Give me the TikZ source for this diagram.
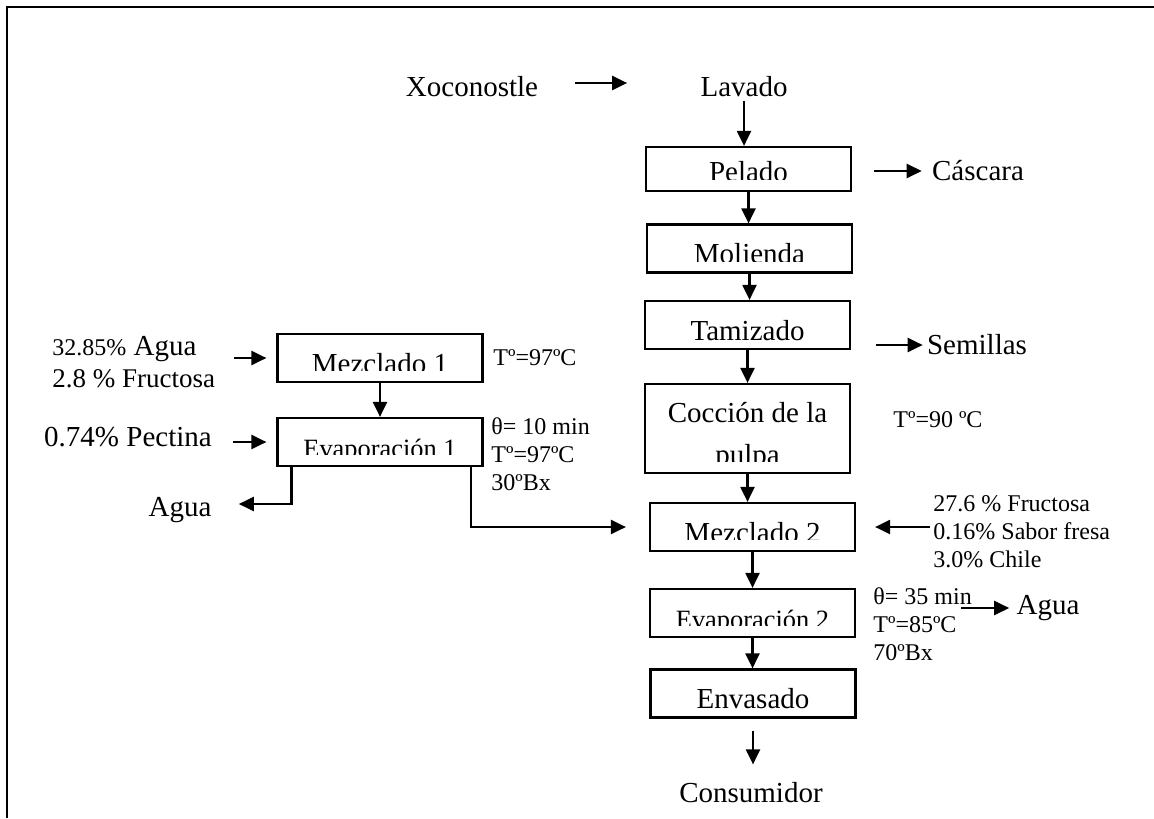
\documentclass[tikz,border=0pt]{standalone}
\usepackage{fontspec}
\setmainfont{Liberation Serif}
\usetikzlibrary{arrows.meta}

\begin{document}
\begin{tikzpicture}[x=0.5pt,y=-0.5pt,
  arr/.style={-{Triangle[length=7.5pt,width=7pt]},line width=1.1pt},
  txt/.style={inner sep=0pt,font=\fontsize{14.5}{17}\selectfont},
  note/.style={inner sep=0pt,align=left,font=\fontsize{12}{14}\selectfont},
  box/.style={draw,line width=1.1pt,minimum width=102.5pt,minimum height=24pt,inner sep=0pt},
  lbl/.style={path picture={\node[txt,anchor=base] at ([yshift=4.5pt]path picture bounding box.south) {#1};}},
  cut/.style={path picture={\node[txt,anchor=base] at ([yshift=4.5pt]path picture bounding box.south) {#1};
    \fill[white] ([yshift=0.6pt]path picture bounding box.south west) rectangle ([yshift=5.4pt]path picture bounding box.south east);}}]

  \useasboundingbox (0,0) rectangle (1154,818);
  \draw[line width=1.2pt] (7,818) -- (7,7) -- (1154,7);

  % main line
  \node[txt] (xoco) at (472,87) {Xoconostle};
  \node[txt] (lav) at (744,87) {Lavado};
  \node[box,cut=Pelado,minimum height=22pt] (pel) at (748.5,169) {};
  \node[box,cut=Molienda] (mol) at (749.5,248.5) {};
  \node[box,lbl=Tamizado] (tam) at (747.5,325) {};
  \node[box,cut=pulpa,minimum height=44.5pt] (coc) at (747.5,428.5) {};
  \node[txt] (cocT) at (747.5,413) {Cocción de la};
  \node[box,cut=Mezclado 2] (mez2) at (752.5,527) {};
  \node[box,cut={\fontsize{13.2}{15}\selectfont Evaporación 2}] (eva2) at (752.5,613) {};
  \node[box,lbl=Envasado] (env) at (753,693.5) {};
  \node[txt] (cons) at (751,793) {Consumidor};

  % outputs and conditions, right
  \node[txt] (cas) at (978,171) {Cáscara};
  \node[txt] (sem) at (977,345) {Semillas};
  \node[note,anchor=west] (t90) at (893,420) {Tº=90 ºC};
  \node[note,anchor=north west] (fr) at (933,495)
    {27.6 \% Fructosa\\0.16\% Sabor fresa\\3.0\% Chile};
  \node[note,anchor=north west] (ev2n) at (873,587) {θ= 35 min\\Tº=85ºC\\70ºBx};
  \node[txt] (agua2) at (1048,608) {Agua};

  % side line, left
  \node[box,cut={\fontsize{14.5}{16}\selectfont Mezclado 1}] (mez1) at (380,358) {};
  \node[box,cut={\fontsize{13.2}{15}\selectfont Evaporación 1}] (eva1) at (380,442) {};
  \node[note,anchor=west] (t97) at (493,358) {Tº=97ºC};
  \node[note,anchor=north west] (ev1n) at (491,417) {θ= 10 min\\Tº=97ºC\\30ºBx};
  \node[txt,align=left,anchor=north west] (ing) at (52,336)
    {{\fontsize{12}{14}\selectfont 32.85\%} Agua\\[-1pt]{\fontsize{13.5}{16}\selectfont 2.8 \% Fructosa}};
  \node[txt] (pec) at (128,437) {0.74\% Pectina};
  \node[txt] (agua1) at (180,510) {Agua};

  \path[arr]
  (lav.south)  edge [shorten <=1.5pt] (lav.south |- pel.north)
  (pel.south)  edge (pel.south |- mol.north)
  (mol.south)  edge (mol.south |- tam.north)
  (tam.south)  edge (tam.south |- coc.north)
  (coc.south)  edge (coc.south |- mez2.north)
  (mez2.south) edge (mez2.south |- eva2.north)
  (eva2.south) edge (eva2.south |- env.north)
  (env.south)  edge [shorten <=6pt,shorten >=9pt] (env.south |- cons.north)
  (mez1.south) edge (eva1.north);

  \draw[arr,shorten <=18.5pt,shorten >=36.5pt] ([yshift=2pt]xoco.east) -- ([yshift=2pt]lav.west);
  \draw[arr,shorten <=11pt,shorten >=5pt] (pel.east |- cas.west) -- (cas.west);
  \draw[arr,shorten <=12.5pt,shorten >=2pt] (tam.east |- sem.west) -- (sem.west);
  \draw[arr,shorten <=1.5pt,shorten >=9.5pt] (fr.west |- mez2.east) -- (mez2.east);
  \draw[arr,shorten <=52.5pt,shorten >=3.5pt] (eva2.east |- agua2.west) -- (agua2.west);
  \draw[arr,shorten <=9pt,shorten >=5pt] (ing.east |- mez1.west) -- (mez1.west);
  \draw[arr,shorten <=10.5pt,shorten >=5pt] (pec.east |- eva1.west) -- (eva1.west);
  \draw[arr,shorten >=13.5pt] ([xshift=7.5pt]eva1.south west) |- ([yshift=3pt]agua1.east);
  \draw[arr,shorten >=11.5pt] ([xshift=-6.5pt]eva1.south east) |- (mez2.west);
\end{tikzpicture}
\end{document}
